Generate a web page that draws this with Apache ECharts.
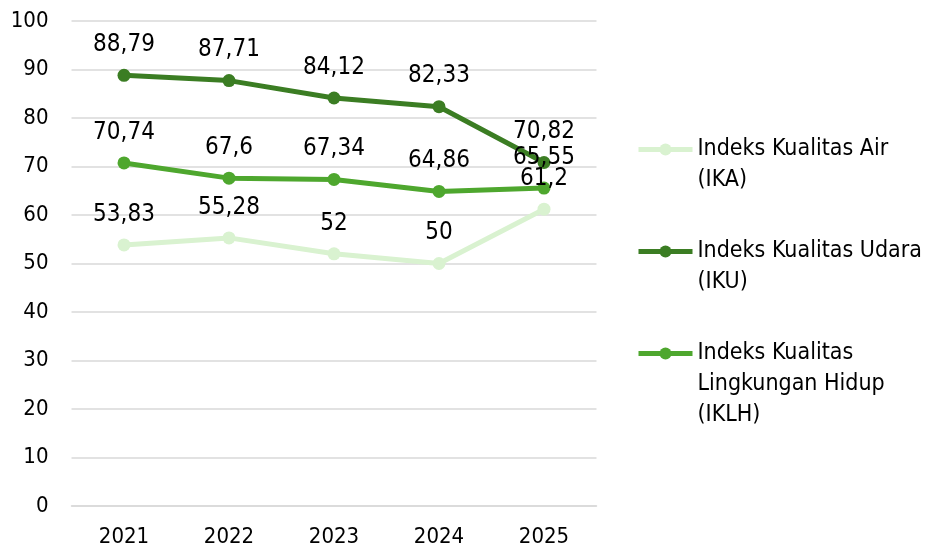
<!DOCTYPE html>
<html>
<head>
<meta charset="utf-8">
<script src="https://cdn.jsdelivr.net/npm/echarts@6/dist/echarts.min.js"></script>
<style>
  html, body { margin: 0; padding: 0; background: #fff; }
  #chart { width: 928px; height: 551px; }
</style>
</head>
<body>
<div id="chart"></div>
<script>
  // kategori tahun
  const years = ['2021', '2022', '2023', '2024', '2025']
  const seriesNames = [
    'Indeks Kualitas Air\n(IKA)',
    'Indeks Kualitas Udara\n(IKU)',
    'Indeks Kualitas\nLingkungan Hidup\n(IKLH)',
  ]
  const ikaValues = [53.83, 55.28, 52, 50, 61.2]
  const ikuValues = [88.79, 87.71, 84.12, 82.33, 70.82]
  const iklhValues = [70.74, 67.6, 67.34, 64.86, 65.55]
  const colors = ['#d9f2d0', '#3b7d23', '#4ea72e']

  const font = 'DejaVu Sans Condensed'
  const lineH = 31

  function makeSeries(name, data, color) {
    return {
      name: name,
      type: 'line',
      data: data,
      symbol: 'circle',
      symbolSize: 13,
      lineStyle: { width: 5, color: color },
      itemStyle: { color: color },
      label: {
        show: true,
        position: 'top',
        distance: 12,
        fontFamily: font,
        fontSize: 24,
        color: '#000',
        formatter: (p) => String(p.value).replace('.', ','),
      },
      emphasis: { disabled: true },
    }
  }

  // legenda terpisah supaya ikon sejajar dengan baris pertama
  function makeLegend(name, top) {
    const lines = name.split('\n').length
    return {
      data: [name],
      left: 636,
      top: top,
      padding: 0,
      itemWidth: 54,
      itemHeight: 15,
      itemGap: 0,
      selectedMode: false,
      lineStyle: { width: 5 },
      // baris kosong di depan agar baris pertama sejajar dengan ikon
      formatter: (n) => '\n'.repeat(lines - 1) + n,
      textStyle: {
        fontFamily: font,
        fontSize: 23,
        lineHeight: lineH,
        color: '#000',
      },
    }
  }

  const option = {
    animation: false,
    color: colors,
    grid: { left: 71.5, right: 331.5, top: 21, bottom: 45 },
    legend: [
      makeLegend(seriesNames[0], 103),
      makeLegend(seriesNames[1], 205),
      makeLegend(seriesNames[2], 276),
    ],
    xAxis: {
      type: 'category',
      data: years,
      axisTick: { show: false },
      axisLine: { lineStyle: { color: '#d9d9d9', width: 1.5 } },
      axisLabel: { fontFamily: font, fontSize: 22, color: '#000', margin: 20 },
    },
    yAxis: {
      type: 'value',
      min: 0,
      max: 100,
      interval: 10,
      axisLine: { show: false },
      axisTick: { show: false },
      splitLine: { lineStyle: { color: '#d9d9d9', width: 1.5 } },
      axisLabel: { fontFamily: font, fontSize: 22, color: '#000', margin: 23 },
    },
    series: [
      makeSeries(seriesNames[0], ikaValues, colors[0]),
      makeSeries(seriesNames[1], ikuValues, colors[1]),
      makeSeries(seriesNames[2], iklhValues, colors[2]),
    ],
  }

  const myChart = echarts.init(document.getElementById('chart'))
  myChart.setOption(option)
</script>
</body>
</html>
